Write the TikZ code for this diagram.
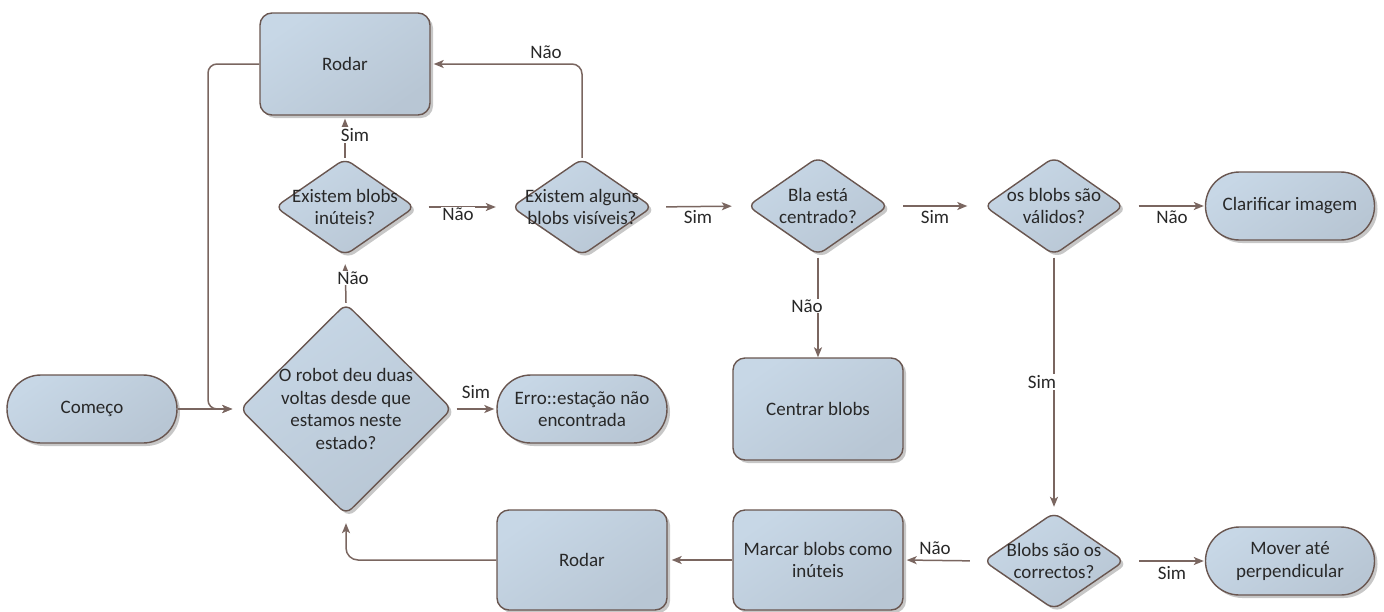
\documentclass[tikz,border=0pt]{standalone}
\usepackage{fontspec}
\setmainfont{Carlito}
\usetikzlibrary{shapes.geometric,shadows,arrows.meta}

\definecolor{edge}{RGB}{105,86,80}
\definecolor{wire}{RGB}{122,102,96}
\definecolor{fillA}{RGB}{199,215,230}
\definecolor{fillB}{RGB}{184,198,212}
\definecolor{ink}{RGB}{40,40,40}

\newcommand\flowfont{\fontsize{19}{22.5}\selectfont}

\tikzset{
  shapebase/.style={draw=edge, line width=1.4pt, top color=fillA, bottom color=fillB,
    shading angle=35, text=ink, align=center, inner sep=2pt,
    drop shadow={shadow xshift=3pt, shadow yshift=-3pt, opacity=.22, fill=black}},
  procbox/.style={shapebase, rectangle, rounded corners=12pt,
    minimum width=170pt, minimum height=102pt},
  termbox/.style={shapebase, rectangle, rounded corners=33.9pt,
    minimum width=170pt, minimum height=68pt},
  decbox/.style={shapebase, diamond, rounded corners=8pt, inner sep=0pt},
  dectext/.style={text=ink, align=center, inner sep=0pt},
  conn/.style={draw=wire, line width=1.5pt,
    -{Stealth[length=10pt, width=8pt, inset=2.5pt]}},
  tag/.style={text=ink, inner sep=1pt},
  tagw/.style={tag, fill=white},
}

\begin{document}
\begin{tikzpicture}[x=1pt, y=-1pt, font=\flowfont]
\useasboundingbox (0,0) rectangle (1384,611);

% process boxes
\node[procbox] (rodarTop) at (345,64) {Rodar};
\node[procbox] (centrar) at (818,409) {Centrar blobs};
\node[procbox, minimum height=100pt] (rodarBot) at (582,560) {Rodar};
\node[procbox, minimum height=100pt] (marcar) at (818,560) {Marcar blobs como\\inúteis};

% terminals
\node[termbox] (comeco) at (92,409) {Começo};
\node[termbox] (erro) at (582,409) {Erro::estação não\\encontrada};
\node[termbox, minimum width=169pt] (clarificar) at (1290,206) {Clarificar imagem};
\node[termbox, minimum width=169pt] (mover) at (1290,561) {Mover até\\perpendicular};

% decisions
\node[decbox, minimum width=140pt, minimum height=97pt] (inuteis) at (345,207) {};
\node[dectext] (inuteisT) at (inuteis) {Existem blobs\\inúteis?};
\node[decbox, minimum width=141pt, minimum height=97pt] (visiveis) at (582,207) {};
\node[dectext] (visiveisT) at (visiveis) {Existem alguns\\blobs visíveis?};
\node[decbox, minimum width=141pt, minimum height=98pt] (centrado) at (818,206) {};
\node[dectext] (centradoT) at (centrado) {Bla está\\centrado?};
\node[decbox, minimum width=140pt, minimum height=98pt] (validos) at (1054,206) {};
\node[dectext] (validosT) at (validos) {os blobs são\\válidos?};
\node[decbox, minimum width=212pt, minimum height=211pt] (robot) at (346,409) {};
\node[dectext] (robotT) at (robot) {O robot deu duas\\voltas desde que\\estamos neste\\estado?};
\node[decbox, minimum width=141pt, minimum height=97pt] (corretos) at (1054,561) {};
\node[dectext] (corretosT) at (corretos) {Blobs são os\\correctos?};

% junction point of the routed connector on the left
\coordinate (joinL) at (208,409);

% connectors
\draw[conn] (comeco.east) -- ([xshift=-7pt]robot.west);
\draw[conn, rounded corners=9pt] (rodarTop.west) -| (joinL) -- ([xshift=-7pt]robot.west);
\draw[conn, shorten >=3pt] (inuteis.north) -- (rodarTop.south);
\draw[conn, shorten >=8pt] (robot.north) -- (inuteis.south);
\draw[conn, shorten <=13pt, shorten >=15pt] (inuteis.east) -- (visiveis.west);
\draw[conn, rounded corners=10pt, shorten >=3pt] (visiveis.north) |- (rodarTop.east);
\draw[conn, shorten <=13pt, shorten >=15pt] (visiveis.east) -- (centrado.west);
\draw[conn, shorten <=14pt, shorten >=16pt] (centrado.east) -- (validos.west);
\draw[conn, shorten <=14pt, shorten >=1pt] (validos.east) -- (clarificar.west);
\draw[conn, shorten <=2pt] (centrado.south) -- (centrar.north);
\draw[conn, shorten <=2pt, shorten >=5pt] (validos.south) -- (corretos.north);
\draw[conn, shorten <=14pt, shorten >=1pt] (corretos.east) -- (mover.west);
\draw[conn, shorten <=13pt, shorten >=3pt] (corretos.west) -- (marcar.east);
\draw[conn, shorten >=4pt] (marcar.west) -- (rodarBot.east);
\draw[conn, rounded corners=12pt, shorten >=8pt] (rodarBot.west) -| (robot.south);
\draw[conn, shorten <=4pt, shorten >=2pt] (robot.east) -- (erro.west);

% branch labels
\node[tagw] (tSim1) at (355,135) {Sim};
\node[tagw] (tNao1) at (353,278) {Não};
\node[tagw] (tNao2) at (458,214) {Não};
\node[tag]  (tNao3) at (546,52) {Não};
\node[tag]  (tSim2) at (698,217) {Sim};
\node[tag]  (tSim3) at (935,217) {Sim};
\node[tag]  (tNao4) at (1172,217) {Não};
\node[tagw] (tNao5) at (807,306) {Não};
\node[tagw] (tSim4) at (1042,382) {Sim};
\node[tag]  (tSim5) at (1172,573) {Sim};
\node[tag]  (tNao6) at (935,548) {Não};
\node[tag]  (tSim6) at (476,392) {Sim};
\end{tikzpicture}
\end{document}
